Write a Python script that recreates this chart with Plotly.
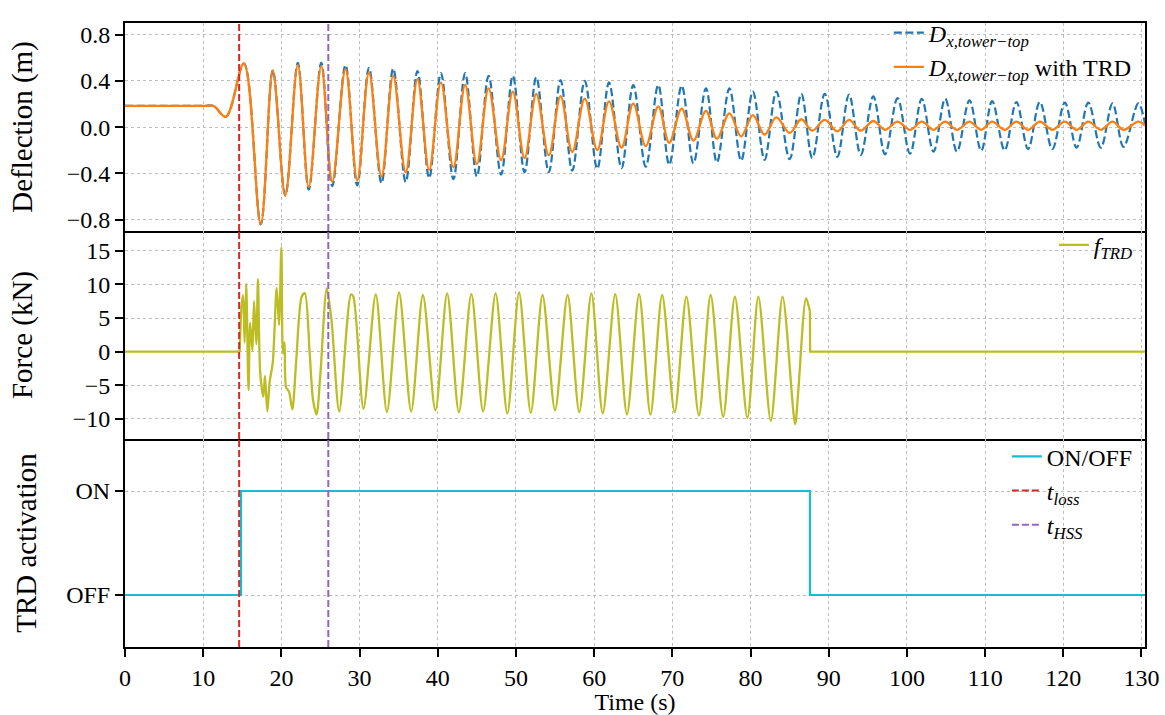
import plotly.graph_objects as go
from plotly.subplots import make_subplots

# ---------------- data ----------------
# tower-top deflection: times of turning points (s)
t_defl = [0, 10, 11.3, 12.9, 15.2, 17.36, 18.9, 20.5,
          22.1, 23.5, 25.1, 26.5, 28.2, 29.7, 31.2, 32.8, 34.3, 35.9,
          37.4, 38.9, 40.4, 42.0, 43.5, 45.0, 46.5, 48.1, 49.6, 51.1,
          52.6, 54.2, 55.7, 57.2, 58.8, 60.4, 61.9, 63.5, 65.0, 66.6,
          68.2, 69.6, 71.2, 72.7, 74.3, 75.7, 77.3, 78.8, 80.3, 81.8,
          83.3, 85.0, 86.5, 87.9, 89.5, 91.1, 92.6, 94.1, 95.7, 97.2,
          98.8, 100.4, 101.9, 103.4, 104.9, 106.4, 108.0, 109.5, 110.9, 112.5,
          114.0, 115.5, 117.0, 118.6, 120.2, 121.7, 123.2, 124.8, 126.3, 127.7,
          129.6, 130.45]
# deflection without TRD (m)
d_no_trd = [0.183, 0.183, 0.183, 0.09, 0.55, -0.84, 0.49, -0.59,
            0.555, -0.54, 0.555, -0.51, 0.536, -0.503, 0.513, -0.483, 0.505, -0.474,
            0.485, -0.44, 0.466, -0.45, 0.466, -0.427, 0.443, -0.41, 0.443, -0.39,
            0.43, -0.39, 0.406, -0.376, 0.40, -0.36, 0.386, -0.355, 0.364, -0.342,
            0.364, -0.325, 0.358, -0.313, 0.335, -0.305, 0.335, -0.29, 0.307, -0.283,
            0.307, -0.277, 0.288, -0.268, 0.288, -0.257, 0.282, -0.24, 0.265, -0.235,
            0.25, -0.23, 0.245, -0.212, 0.245, -0.212, 0.231, -0.205, 0.224, -0.2,
            0.217, -0.19, 0.217, -0.19, 0.212, -0.178, 0.212, -0.178, 0.205, -0.17,
            0.205, 0.03]
# deflection with TRD (m)
d_trd = [0.183, 0.183, 0.183, 0.09, 0.55, -0.84, 0.49, -0.59,
         0.536, -0.517, 0.527, -0.474, 0.50, -0.46, 0.47, -0.427, 0.443, -0.39,
         0.415, -0.37, 0.386, -0.347, 0.364, -0.32, 0.335, -0.285, 0.307, -0.268,
         0.288, -0.243, 0.268, -0.215, 0.246, -0.198, 0.223, -0.178, 0.203, -0.164,
         0.18, -0.135, 0.16, -0.116, 0.14, -0.1, 0.118, -0.08, 0.104, -0.065,
         0.085, -0.05, 0.068, -0.031, 0.062, -0.037, 0.062, -0.031, 0.053, -0.023,
         0.048, -0.024, 0.047, -0.023, 0.047, -0.024, 0.047, -0.023, 0.047, -0.023,
         0.047, -0.024, 0.047, -0.023, 0.047, -0.024, 0.047, -0.023, 0.047, -0.023,
         0.047, 0.012]

# TRD force (kN)
t_force = [0, 14.67, 14.9, 15.1, 15.3, 15.5, 15.8, 16.0, 16.3, 16.5, 16.8, 17.0,
           17.3, 17.7, 17.9, 18.2, 18.5, 18.9, 19.4, 19.7, 20.0, 20.2, 20.4, 20.6,
           20.98, 21.4, 21.9, 22.6, 23.0, 23.6, 24.05, 24.5, 24.99, 25.8, 26.4, 27.4,
           28.9, 29.2, 30.5, 32.07, 33.5, 35.05, 36.6, 38.1, 39.7, 41.2, 42.7, 44.3,
           45.8, 47.4, 48.9, 50.4, 51.9, 53.4, 55.0, 56.6, 58.1, 59.65, 61.1, 62.7,
           64.2, 65.75, 67.2, 68.7, 70.3, 71.8, 73.4, 74.9, 76.5, 78.0, 79.6, 81.0,
           82.6, 84.1, 85.7, 86.1, 87.1, 87.6, 87.62, 130.45]
f_trd = [0, 0, 6.7, 8.4, 1.36, 10.1, -5.7, 4.3, 0.15, 7.5, 1.1, 10.8,
         -3.3, -6.7, -3.6, -8.9, -4.5, -1.6, 9.5, 4.0, 15.5, -0.25, 1.4, -5.3,
         -5.95, -8.6, -1.3, 8.2, 8.7, 0.15, -7.2, -9.36, -3.3, 9.4, 4.8, -8.9,
         8.5, 8.2, -8.5, 8.5, -9.0, 8.8, -8.9, 8.43, -8.73, 8.67, -9.02, 8.55,
         -8.9, 8.67, -9.2, 8.8, -9.1, 8.43, -8.73, 8.43, -9.02, 8.67, -9.2, 8.55,
         -9.35, 8.57, -9.35, 8.43, -9.02, 8.18, -9.5, 8.43, -9.7, 8.18, -9.85, 8.18,
         -10.3, 8.18, -10.8, -5.95, 7.94, 6.0, 0, 0]
# TRD active between these two sample indices of the force record
i_on = 1        # t = 14.67 s
i_off = 77      # t = 87.6 s

# TRD activation (0 = OFF, 1 = ON)
t_act = [0, 14.84, 87.6, 130.45]
act = [0, 1, 0, 0]

t_loss = 14.6
t_hss = 26.0

x_range = [0, 130.45]
y_ranges = {1: [-0.898, 0.9], 2: [-13.0, 17.95], 3: [-0.5, 1.5]}
x_ticks = list(range(0, 131, 10))
defl_ticks = [-0.8, -0.4, 0.0, 0.4, 0.8]
defl_ticktext = ["\u22120.8", "\u22120.4", "0.0", "0.4", "0.8"]
force_ticks = [-10, -5, 0, 5, 10, 15]
force_ticktext = ["\u221210", "\u22125", "0", "5", "10", "15"]
act_ticks = [0, 1]
act_ticktext = ["OFF", "ON"]

# ---------------- styling ----------------
FONT = "'Liberation Serif', 'Times New Roman', 'DejaVu Serif', serif"
FS = 24
BLUE, ORANGE, OLIVE, CYAN = "#1f77b4", "#ff7f0e", "#bcbd22", "#17becf"
RED, PURPLE = "#d62728", "#9467bd"
GRID = "#bdbdbd"

fig = make_subplots(rows=3, cols=1, shared_xaxes=True, vertical_spacing=0)

Dsub = "<i>D</i><sub><i>x,tower\u2212top</i></sub>"

fig.add_trace(go.Scatter(x=t_defl, y=d_no_trd, mode="lines", name=Dsub,
                         line=dict(color=BLUE, width=2.2, dash="8px,3.5px", shape="spline", smoothing=1),
                         legend="legend"), row=1, col=1)
fig.add_trace(go.Scatter(x=t_defl, y=d_trd, mode="lines", name=Dsub + " with TRD",
                         line=dict(color=ORANGE, width=2.3, shape="spline", smoothing=1),
                         legend="legend"), row=1, col=1)

# force: idle before activation, oscillation while active, idle after
fig.add_trace(go.Scatter(x=t_force[:i_on + 1], y=f_trd[:i_on + 1], mode="lines",
                         line=dict(color=OLIVE, width=2.3), showlegend=False,
                         legend="legend2"), row=2, col=1)
fig.add_trace(go.Scatter(x=t_force[i_on:i_off + 1], y=f_trd[i_on:i_off + 1], mode="lines",
                         name="<i>f</i><sub><i>TRD</i></sub>",
                         line=dict(color=OLIVE, width=2.3, shape="spline", smoothing=0.8),
                         legend="legend2"), row=2, col=1)
fig.add_trace(go.Scatter(x=t_force[i_off:], y=f_trd[i_off:], mode="lines",
                         line=dict(color=OLIVE, width=2.3), showlegend=False,
                         legend="legend2"), row=2, col=1)

fig.add_trace(go.Scatter(x=t_act, y=act, mode="lines", name="ON/OFF",
                         line=dict(color=CYAN, width=2.2, shape="hv"),
                         legend="legend3"), row=3, col=1)

for r in (1, 2, 3):
    for tv, col, nm in ((t_loss, RED, "<i>t</i><sub><i>loss</i></sub>"),
                        (t_hss, PURPLE, "<i>t</i><sub><i>HSS</i></sub>")):
        fig.add_trace(go.Scatter(x=[tv, tv], y=y_ranges[r], mode="lines", name=nm,
                                 line=dict(color=col, width=2, dash="7px,3px"),
                                 showlegend=(r == 3), legend="legend3"), row=r, col=1)

H = 715
mt, mb = 11, 68
third = 1.0 / 3.0

axis_common = dict(showline=True, linecolor="black", linewidth=2,
                   showgrid=True, gridcolor=GRID, gridwidth=1, griddash="dot",
                   zeroline=False, automargin=False,
                   tickfont=dict(family=FONT, size=FS, color="black"))

legend_common = dict(x=0.993, xanchor="right", yanchor="top",
                     bgcolor="rgba(255,255,255,0)",
                     font=dict(family=FONT, size=FS, color="black"))

fig.update_layout(
    width=1165, height=H,
    margin=dict(l=125, r=20, t=mt, b=mb),
    plot_bgcolor="white", paper_bgcolor="white",
    font=dict(family=FONT, size=FS, color="black"),
    legend=dict(legend_common, y=1.02),
    legend2=dict(legend_common, y=0.68),
    legend3=dict(legend_common, y=0.341),
    showlegend=True,
)

for i, dom in zip((1, 2, 3), ([2 * third, 1], [third, 2 * third], [0, third])):
    # only the top panel mirrors its x line (top frame); shared edges drawn once
    xa = dict(axis_common, range=x_range, tickvals=x_ticks, mirror=(i == 1))
    if i < 3:
        xa.update(ticks="", showticklabels=False)
    else:
        xa.update(ticks="outside", ticklen=8, tickwidth=1.6, tickcolor="black",
                  showticklabels=True,
                  title=dict(text="Time (s)", standoff=0, font=dict(family=FONT, size=FS)))
    fig.update_xaxes(**xa, row=i, col=1)
    fig.update_yaxes(domain=dom, row=i, col=1)

ytick = dict(ticks="outside", ticklen=8, tickwidth=1.6, tickcolor="black", mirror=True)
fig.update_yaxes(axis_common, range=y_ranges[1], tickvals=defl_ticks, ticktext=defl_ticktext,
                 title=dict(text="Deflection (m)", standoff=26), row=1, col=1, **ytick)
fig.update_yaxes(axis_common, range=y_ranges[2], tickvals=force_ticks, ticktext=force_ticktext,
                 title=dict(text="Force (kN)", standoff=32), row=2, col=1, **ytick)
fig.update_yaxes(axis_common, range=y_ranges[3], tickvals=act_ticks, ticktext=act_ticktext,
                 title=dict(text="TRD activation", standoff=21), row=3, col=1, **ytick)

fig.write_html("out.html", config={"displayModeBar": False},
               post_script="document.body.style.margin='0px';document.body.style.overflow='hidden';")
